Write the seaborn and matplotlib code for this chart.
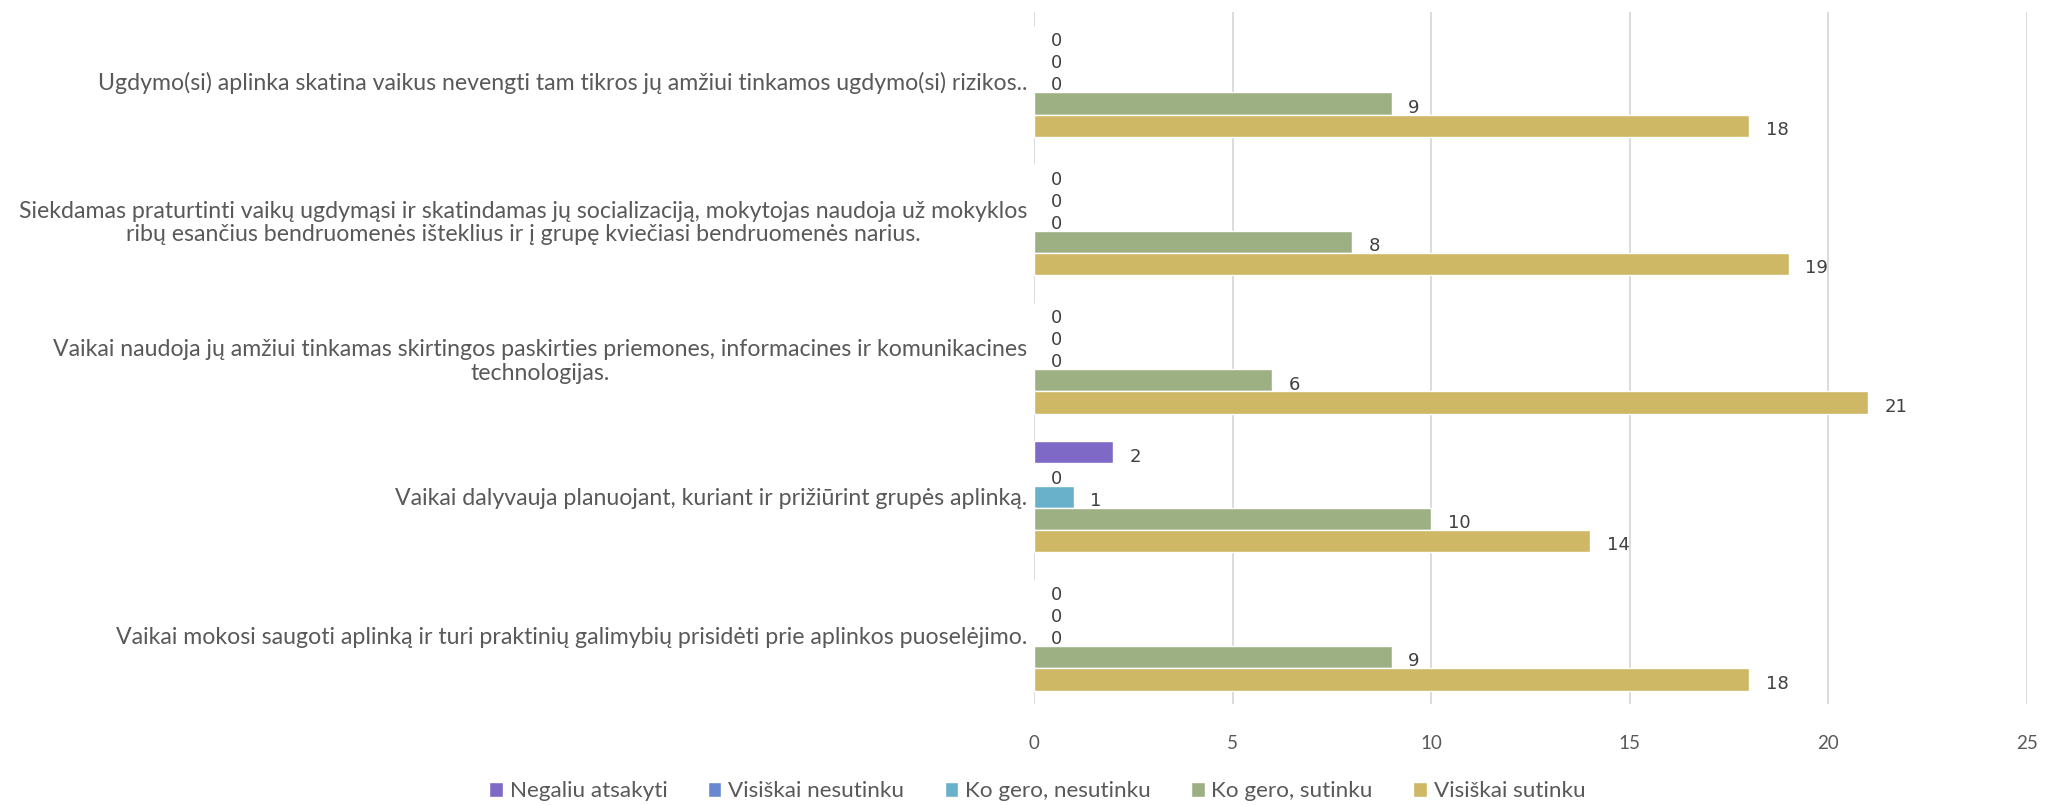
import matplotlib
matplotlib.use("Agg")
import matplotlib.pyplot as plt
import seaborn as sns
import pandas as pd

categories = [
    "Ugdymo(si) aplinka skatina vaikus nevengti tam tikros jų amžiui tinkamos ugdymo(si) rizikos..",
    "Siekdamas praturtinti vaikų ugdymąsi ir skatindamas jų socializaciją, mokytojas naudoja už mokyklos\nribų esančius bendruomenės išteklius ir į grupę kviečiasi bendruomenės narius.",
    "Vaikai naudoja jų amžiui tinkamas skirtingos paskirties priemones, informacines ir komunikacines\ntechnologijas.",
    "Vaikai dalyvauja planuojant, kuriant ir prižiūrint grupės aplinką.",
    "Vaikai mokosi saugoti aplinką ir turi praktinių galimybių prisidėti prie aplinkos puoselėjimo.",
]
series = ["Negaliu atsakyti", "Visiškai nesutinku", "Ko gero, nesutinku", "Ko gero, sutinku", "Visiškai sutinku"]
negaliu = [0, 0, 0, 2, 0]
visiskai_nesutinku = [0, 0, 0, 0, 0]
kogero_nesutinku = [0, 0, 0, 1, 0]
kogero_sutinku = [9, 8, 6, 10, 9]
visiskai_sutinku = [18, 19, 21, 14, 18]
xticks = [0, 5, 10, 15, 20, 25]

colors = ["#7E69C7", "#6A88D0", "#69B1CB", "#9DB084", "#CEB866"]

values = [negaliu, visiskai_nesutinku, kogero_nesutinku, kogero_sutinku, visiskai_sutinku]
rows = []
for s, vals in zip(series, values):
    for c, v in zip(categories, vals):
        rows.append({"category": c, "series": s, "value": v})
df = pd.DataFrame(rows)

sns.set_theme(style="white")
plt.rcParams["font.family"] = ["Lato", "DejaVu Sans"]
text_color = "#595959"

fig = plt.figure(figsize=(20.54, 8.05), dpi=100)
ax = fig.add_axes([0.5034, 0.125, 0.4835, 0.86])

sns.barplot(data=df, y="category", x="value", hue="series", order=categories,
            hue_order=series, palette=colors, orient="h", width=0.8,
            saturation=1, ax=ax, legend=True)

for cont in ax.containers:
    texts = ax.bar_label(cont, labels=[f"{int(v)}" for v in cont.datavalues],
                         padding=12, fontsize=13, color="#404040",
                         family=["DejaVu Sans"])
    for t in texts:
        t.set_va("center")
        t.xyann = (t.xyann[0], -3)

ax.set_xlim(0, 25)
ax.set_xticks(xticks)
ax.set_xticklabels([str(t) for t in xticks])
ax.grid(axis="x", color="#D9D9D9", linewidth=1.3)
ax.set_axisbelow(True)
for sp in ax.spines.values():
    sp.set_visible(False)
ax.set_xlabel("")
ax.set_ylabel("")
ax.tick_params(axis="x", colors=text_color, labelsize=13.5, pad=22, length=0)
ax.tick_params(axis="y", colors=text_color, labelsize=16.7, length=0, pad=5)
for lbl in ax.get_yticklabels():
    lbl.set_multialignment("center")
    lbl.set_linespacing(1.15)

handles, labels = ax.get_legend_handles_labels()
ax.legend_.remove()
fig.legend(handles, labels, loc="center", bbox_to_anchor=(0.505, 0.017),
           ncol=5, frameon=False, fontsize=16.2, labelcolor=text_color,
           handlelength=0.6, handleheight=0.6, handletextpad=0.3, columnspacing=1.8)

fig.savefig("out.png", dpi=100)
